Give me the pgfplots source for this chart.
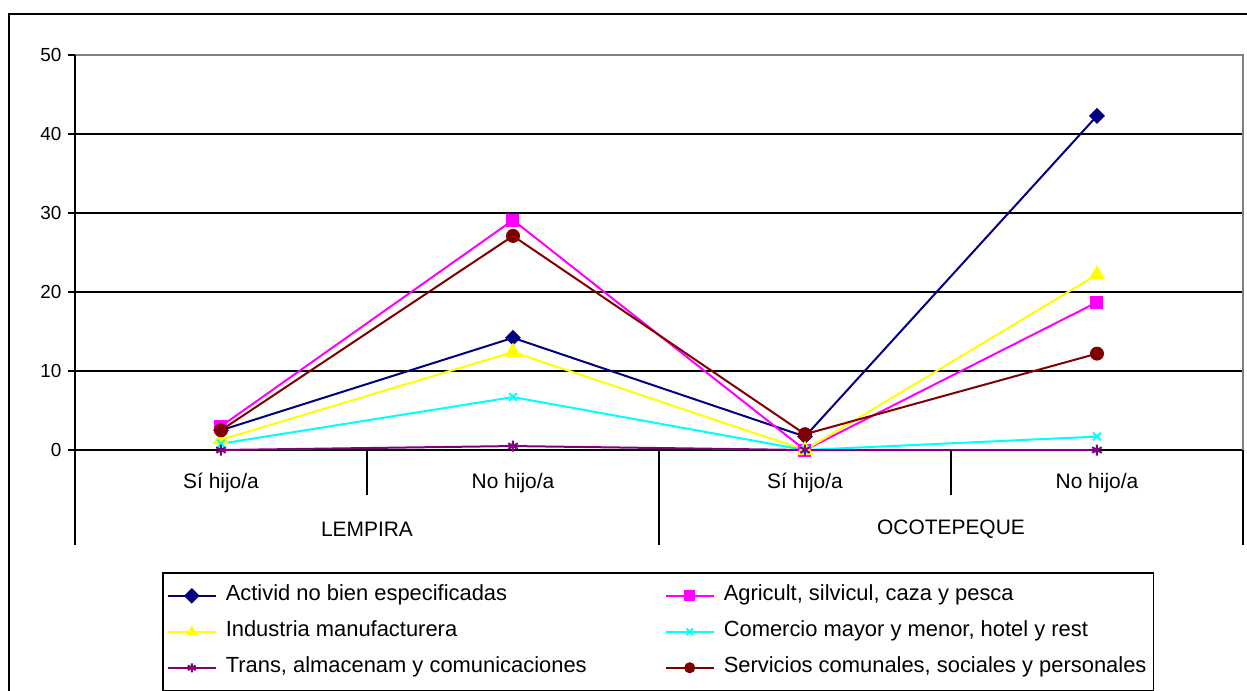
\documentclass[border=0pt]{standalone}
\usepackage{fontspec}
\setmainfont{Liberation Sans}
\usepackage{pgfplots}
\pgfplotsset{compat=1.18}
\definecolor{navy}{RGB}{0,0,128}
\definecolor{mag}{RGB}{255,0,255}
\definecolor{yel}{RGB}{255,255,0}
\definecolor{cya}{RGB}{0,255,255}
\definecolor{pur}{RGB}{128,0,128}
\definecolor{bro}{RGB}{128,0,0}

\begin{document}
\begin{tikzpicture}
\clip (0,0) rectangle (1247bp,-691bp);
\draw[line width=2bp] (9bp,-14bp) rectangle (1262bp,-710bp);
\begin{axis}[
  at={(75bp,-450bp)}, anchor=south west,
  scale only axis, width=1168bp, height=395bp,
  xmin=-0.5, xmax=3.5, ymin=0, ymax=50,
  clip=false,
  axis line style={draw=none},
  ytick={0,10,...,50},
  xtick={0,1,2,3},
  xticklabels={Sí hijo/a, No hijo/a, Sí hijo/a, No hijo/a},
  xtick style={draw=none},
  ytick style={black, line width=1.5bp},
  ytick pos=left, tick align=outside, major tick length=7bp,
  ymajorgrids, grid style={black, line width=1.5bp},
  /pgf/number format/assume math mode=true,
  yticklabel style={font=\fontsize{19}{22}\selectfont, xshift=-3bp},
  xticklabel style={font=\fontsize{21}{25}\selectfont, yshift=-13bp},
  every axis plot/.append style={line width=2bp},
  legend columns=2,
  legend cell align=left,
  legend image code/.code={\draw[mark repeat=2, mark phase=2, #1, mark size=4.5bp] plot coordinates {(0bp,0bp) (24bp,0bp) (48bp,0bp)};},
  legend style={at={(0.0745,-0.3089)}, anchor=north west, draw=black, line width=1.5bp,
    font=\fontsize{22}{26}\selectfont, inner xsep=4bp, inner ysep=10bp, row sep=10bp,
    nodes={text height=15bp, text depth=5bp, inner sep=3bp}},
]
\addplot[navy, mark=square*, mark size=4.6bp, mark options={rotate=45}] coordinates {(0,2.5) (1,14.2) (2,1.7) (3,42.3)};
\addlegendentry{\makebox[442bp][l]{\hspace*{6bp}Activid no bien especificadas}}
\addplot[mag, mark=square*, mark size=5.5bp] coordinates {(0,3.0) (1,29.1) (2,0) (3,18.7)};
\addlegendentry{\hspace*{6bp}Agricult, silvicul, caza y pesca}
\addplot[yel, mark=triangle*, mark size=7.5bp] coordinates {(0,1.3) (1,12.4) (2,0) (3,22.2)};
\addlegendentry{\makebox[442bp][l]{\hspace*{6bp}Industria manufacturera}}
\addplot[cya, mark=x, mark size=5.5bp] coordinates {(0,0.8) (1,6.7) (2,0) (3,1.7)};
\addlegendentry{\hspace*{6bp}Comercio mayor y menor, hotel y rest}
\addplot[pur, mark=asterisk, mark size=5.5bp] coordinates {(0,0) (1,0.5) (2,0) (3,0)};
\addlegendentry{\makebox[442bp][l]{\hspace*{6bp}Trans, almacenam y comunicaciones}}
\addplot[bro, mark=*, mark size=6bp] coordinates {(0,2.5) (1,27.1) (2,2.0) (3,12.2)};
\addlegendentry{\hspace*{6bp}Servicios comunales, sociales y personales}
% frame of the plot area and category separators
\draw[gray, line width=1.5bp] (axis cs:-0.5,50) -- (axis cs:3.5,50) -- (axis cs:3.5,0);
\draw[black, line width=1.5bp] (axis cs:-0.5,50) -- (axis cs:-0.5,0) -- ++(0pt,-95bp);
\draw[black, line width=1.5bp] (axis cs:3.5,0) -- ++(0pt,-95bp);
\draw[black, line width=1.5bp] (axis cs:1.5,0) -- ++(0pt,-95bp);
\draw[black, line width=1.5bp] (axis cs:0.5,0) -- ++(0pt,-45bp);
\draw[black, line width=1.5bp] (axis cs:2.5,0) -- ++(0pt,-45bp);
\node[font=\fontsize{21}{25}\selectfont] at ([yshift=-79bp]axis cs:0.5,0) {LEMPIRA};
\node[font=\fontsize{21}{25}\selectfont] at ([yshift=-79bp]axis cs:2.5,0) {OCOTEPEQUE};
\end{axis}
\end{tikzpicture}
\end{document}
